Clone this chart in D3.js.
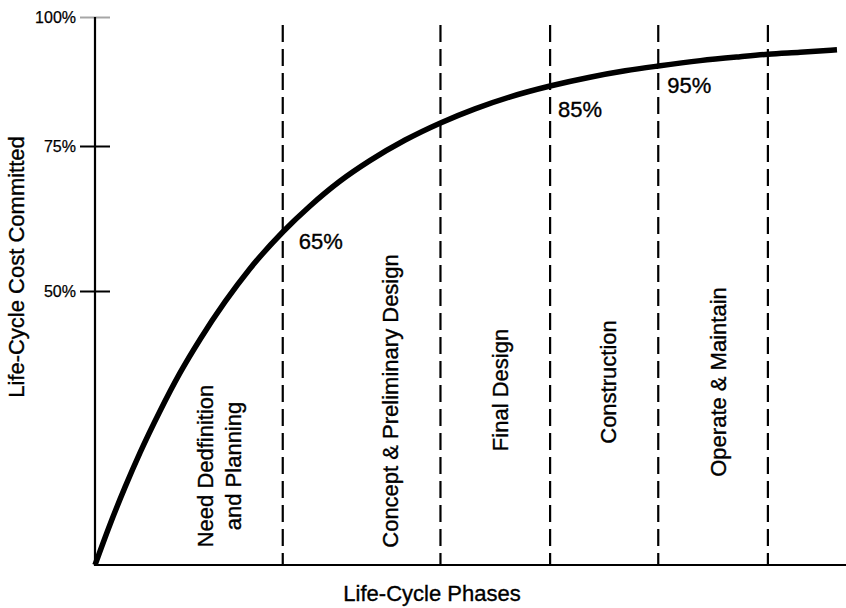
<!DOCTYPE html>
<html>
<head>
<meta charset="utf-8">
<script src="https://cdn.jsdelivr.net/npm/d3@7/dist/d3.min.js"></script>
<style>
  html, body { margin: 0; padding: 0; background: #fff; }
  svg { display: block; font-family: "Liberation Sans", Arial, Helvetica, sans-serif; }
  .lbl { font-size: 22px; fill: #000; stroke: #000; stroke-width: 0.35px; }
</style>
</head>
<body>
<svg id="chart" width="846" height="608"></svg>
<script>
// Life-cycle phases and where each one ends along the project timeline (0–100)
const phases = [
  ["Need Dedfinition", "and Planning"],
  ["Concept & Preliminary Design"],
  ["Final Design"],
  ["Construction"],
  ["Operate & Maintain"]
];
const phaseEnds = [25, 46, 60.6, 75, 89.6];

// Cumulative share of life-cycle cost committed along the timeline
const progress  = [0, 2.0, 4.0, 6.0, 8.66, 11.3, 14.0, 17.3, 20.6, 25, 28.6, 32.6, 36.6, 41.3, 46, 50.6, 55.3, 60.6, 65.9, 70.6, 75, 80.6, 85.9, 89.6, 93.9, 98.8];
const committed = [0, 7.4, 14.2, 20.5, 28.1, 35.0, 41.2, 48.0, 55.6, 65, 68.0, 70.9, 73.3, 76.0, 78.85, 81.2, 83.2, 85, 89.4, 92.6, 95, 95.55, 95.95, 96.2, 96.4, 96.65];

// Milestone call-outs: phase boundary index and committed share there
const milestoneAt     = [0, 2, 3];
const milestoneValues = [65, 85, 95];

// Axis ticks
const yTicks = [50, 75, 100];
const yTickLabels = ["50%", "75%", "100%"];

const svg = d3.select("#chart");

const x = d3.scaleLinear().domain([0, 100]).range([95, 846]);
// Piecewise scale: the vertical axis is drawn unevenly spaced
const y = d3.scaleLinear()
  .domain([0, 50, 65, 75, 85, 95, 100])
  .range([565, 291, 232, 146, 86, 66, 17]);

const ink = "#000";

// Phase boundaries (dashed)
svg.append("g").selectAll("line")
  .data(phaseEnds)
  .join("line")
  .attr("x1", d => x(d)).attr("x2", d => x(d))
  .attr("y1", 25).attr("y2", y(0))
  .attr("stroke", ink)
  .attr("stroke-width", 2.2)
  .attr("stroke-dasharray", "17 7");

// Axes
const yAxis = d3.axisLeft(y).tickValues(yTicks)
  .tickFormat((d, i) => yTickLabels[i])
  .tickSize(15).tickPadding(4);
const gy = svg.append("g").attr("transform", `translate(${x(0)},0)`).call(yAxis);
gy.select(".domain").remove();
gy.selectAll(".tick line")
  .attr("x1", -15).attr("x2", 15)
  .attr("stroke-width", 2)
  .attr("stroke", d => d === 100 ? "#a6a6a6" : ink);
gy.selectAll(".tick text")
  .attr("fill", ink)
  .attr("stroke", ink)
  .attr("stroke-width", 0.25)
  .style("font-size", "16px")
  .style("font-family", "'Liberation Sans', Arial, sans-serif");

svg.append("line")
  .attr("x1", x(0)).attr("x2", x(0))
  .attr("y1", y(100)).attr("y2", y(0) + 1)
  .attr("stroke", ink).attr("stroke-width", 2.2);
svg.append("line")
  .attr("x1", x(0) - 1).attr("x2", x(100))
  .attr("y1", y(0)).attr("y2", y(0))
  .attr("stroke", ink).attr("stroke-width", 2.2);

// Committed-cost curve
const pts = progress.map((p, i) => [p, committed[i]]);
svg.append("path")
  .datum(pts)
  .attr("fill", "none")
  .attr("stroke", ink)
  .attr("stroke-width", 5.5)
  .attr("stroke-linecap", "butt")
  .attr("d", d3.line().x(d => x(d[0])).y(d => y(d[1])).curve(d3.curveMonotoneX));

// Phase names, rotated, sitting just left of each phase's end line
const labelMid = [466, 401, 390, 382, 382];
phases.forEach((lines, i) => {
  const right = x(phaseEnds[i]) - 42;
  lines.forEach((txt, j) => {
    const bx = right - (lines.length - 1 - j) * 28;
    svg.append("text")
      .attr("class", "lbl")
      .attr("transform", `translate(${bx},${labelMid[i]}) rotate(-90)`)
      .attr("text-anchor", "middle")
      .text(txt);
  });
});

// Milestone percentages
const milestoneOffset = [[16, 17], [8, 31], [9, 27]];
milestoneValues.forEach((v, i) => {
  const b = phaseEnds[milestoneAt[i]];
  svg.append("text")
    .attr("class", "lbl")
    .attr("x", x(b) + milestoneOffset[i][0])
    .attr("y", y(v) + milestoneOffset[i][1])
    .text(v + "%");
});

// Axis titles
svg.append("text")
  .attr("class", "lbl")
  .attr("x", 432).attr("y", 601)
  .attr("text-anchor", "middle")
  .text("Life-Cycle Phases");

svg.append("text")
  .attr("class", "lbl")
  .attr("transform", "translate(24,267) rotate(-90)")
  .attr("text-anchor", "middle")
  .text("Life-Cycle Cost Committed");
</script>
</body>
</html>
